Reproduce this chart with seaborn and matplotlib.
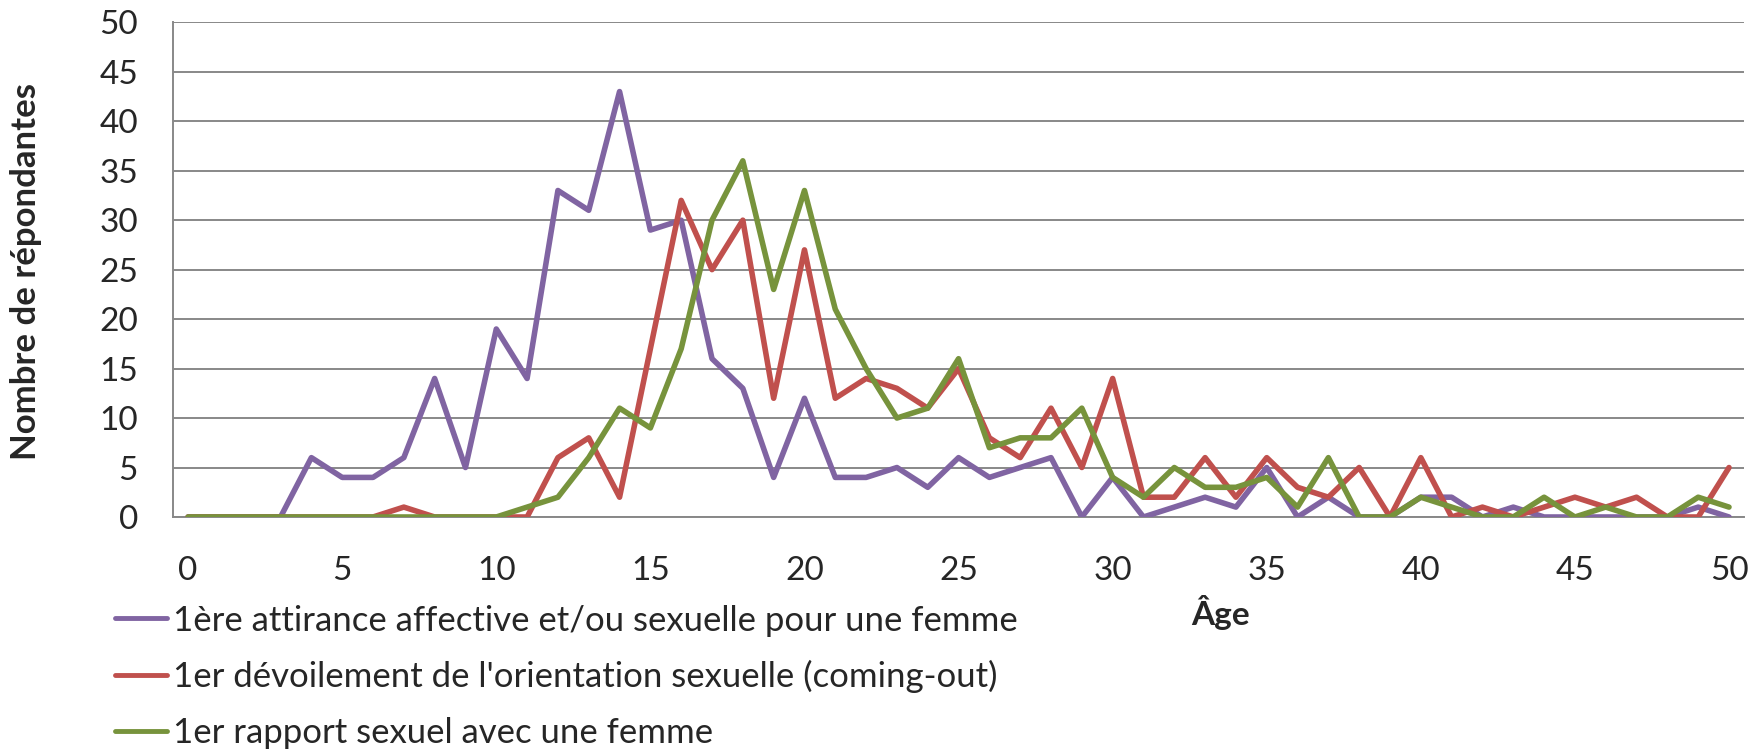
import pandas as pd
import seaborn as sns
import matplotlib.pyplot as plt
from matplotlib.ticker import MultipleLocator, FixedLocator

# Data (age 0 to 50)
ages = list(range(0, 51))
attirance = [0, 0, 0, 0, 6, 4, 4, 6, 14, 5, 19, 14, 33, 31, 43, 29, 30, 16, 13, 4,
             12, 4, 4, 5, 3, 6, 4, 5, 6, 0, 4, 0, 1, 2, 1, 5, 0, 2, 0, 0,
             2, 2, 0, 1, 0, 0, 0, 0, 0, 1, 0]
devoilement = [0, 0, 0, 0, 0, 0, 0, 1, 0, 0, 0, 0, 6, 8, 2, 17, 32, 25, 30, 12,
               27, 12, 14, 13, 11, 15, 8, 6, 11, 5, 14, 2, 2, 6, 2, 6, 3, 2, 5, 0,
               6, 0, 1, 0, 1, 2, 1, 2, 0, 0, 5]
rapport = [0, 0, 0, 0, 0, 0, 0, 0, 0, 0, 0, 1, 2, 6, 11, 9, 17, 30, 36, 23,
           33, 21, 15, 10, 11, 16, 7, 8, 8, 11, 4, 2, 5, 3, 3, 4, 1, 6, 0, 0,
           2, 1, 0, 0, 2, 0, 1, 0, 0, 2, 1]
series_names = ["1ère attirance affective et/ou sexuelle pour une femme",
                "1er dévoilement de l'orientation sexuelle (coming-out)",
                "1er rapport sexuel avec une femme"]
colors = ["#8064A2", "#C0504D", "#77933C"]

df = pd.DataFrame({
    "Âge": ages * 3,
    "Nombre": attirance + devoilement + rapport,
    "Série": [series_names[0]] * 51 + [series_names[1]] * 51 + [series_names[2]] * 51,
})

sns.set_style("white")
plt.rcParams['font.family'] = ['Lato', 'DejaVu Sans']
fs = 24

fig = plt.figure(figsize=(17.64, 7.51), dpi=100)
ax = fig.add_axes([0.0979, 0.3116, 0.8910, 0.6587])

sns.lineplot(data=df, x="Âge", y="Nombre", hue="Série", palette=colors,
             linewidth=4, ax=ax, legend=False, zorder=3)

ax.set_xlim(-0.5, 50.5)
ax.set_ylim(0, 50)
ax.yaxis.set_major_locator(MultipleLocator(5))
ax.xaxis.set_major_locator(MultipleLocator(5))
ax.xaxis.set_minor_locator(FixedLocator([i + 0.5 for i in range(-1, 51)]))
ax.grid(axis='y', color='#888888', linewidth=1.4, zorder=0)
ax.grid(axis='x', visible=False)

for s in ['top', 'right']:
    ax.spines[s].set_visible(False)
for s in ['left', 'bottom']:
    ax.spines[s].set_color('#888888')
    ax.spines[s].set_linewidth(1.4)

ax.tick_params(axis='x', which='major', length=0, pad=28, labelsize=fs)
ax.tick_params(axis='x', which='minor', length=8.5, width=1.4, color='#888888', direction='out')
ax.tick_params(axis='y', which='major', length=8, width=1.4, color='#888888', pad=17, labelsize=fs)

ax.set_xlabel("")
ax.set_ylabel("")
fig.text(0.0147, 0.638, "Nombre de répondantes", rotation=90, ha='center', va='center',
         fontsize=25, fontweight='bold')
fig.text(0.692, 0.184, "Âge", ha='center', va='center', fontsize=fs, fontweight='bold')

handles = [plt.Line2D([], [], color=c, linewidth=3.5, solid_capstyle='round') for c in colors]
fig.legend(handles, series_names, loc='upper left', bbox_to_anchor=(0.065, 0.195),
           frameon=False, fontsize=25, handlelength=1.5, handletextpad=0.17,
           labelspacing=0.68, borderaxespad=0, borderpad=0)

fig.savefig("out.png", dpi=100)
